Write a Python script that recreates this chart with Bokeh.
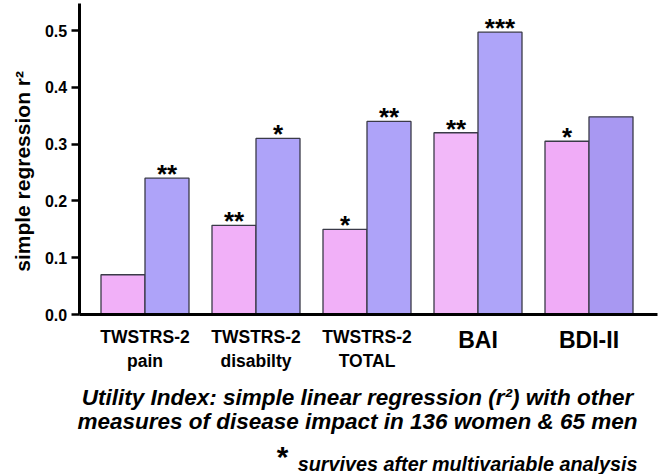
import numpy as np
from bokeh.plotting import figure
from bokeh.models import Range1d, FixedTicker, PrintfTickFormatter, ColumnDataSource
from bokeh.core.properties import value
from bokeh.embed import file_html
from bokeh.resources import INLINE

# ---- data ----
categories = ["TWSTRS-2\npain", "TWSTRS-2\ndisabilty", "TWSTRS-2\nTOTAL", "BAI", "BDI-II"]
women_r2 = [0.07, 0.157, 0.15, 0.32, 0.305]
men_r2 = [0.24, 0.31, 0.34, 0.497, 0.348]
women_sig = ["", "**", "*", "**", "*"]
men_sig = ["**", "*", "**", "***", ""]
y_ticks = [0.0, 0.1, 0.2, 0.3, 0.4, 0.5]
y_title = "simple regression  r\u00b2"
caption_lines = ["Utility Index: simple linear regression (r\u00b2) with other",
                 "measures of disease impact in 136 women & 65 men"]
footnote = "survives after multivariable analysis"

# ---- styles ----
label_sizes = ["17.5px", "17.5px", "17.5px", "23px", "23px"]
women_colors = ["#F1B0F8", "#F1B0F8", "#F1B0F8", "#F2B8F9", "#F0ACF7"]
men_colors = ["#AEA3F9", "#AEA3F9", "#AEA3F9", "#AEA4F9", "#A898F2"]
FONT = "Liberation Sans"

# pixel <-> data helpers (picture pixel coordinates)
PX_Y = 568.0      # px per 1.0 of r2
Y0 = 314.0        # picture y of r2 = 0
PX_X = 111.0      # px per category
X0 = 144.5        # picture x of first category centre
W, H = 661, 474
def yd(py):
    return (Y0 - py) / PX_Y
def xd(px):
    return (px - X0) / PX_X

bar_w = 44.0 / PX_X
idx = np.arange(len(categories))

p = figure(width=W, height=H,
           x_range=Range1d(xd(0), xd(W)), y_range=Range1d(yd(H), yd(0)),
           output_backend="svg", toolbar_location=None, min_border=0)
p.outline_line_color = None
p.grid.visible = False
p.background_fill_color = "white"
p.border_fill_color = "white"

# bars
p.vbar(x=idx - bar_w / 2, top=women_r2, width=bar_w, bottom=0,
       fill_color=women_colors, line_color="#3a3a48", line_width=1.3)
p.vbar(x=idx + bar_w / 2, top=men_r2, width=bar_w, bottom=0,
       fill_color=men_colors, line_color="#3a3a48", line_width=1.3)

# significance stars
star_kw = dict(text_font=value(FONT), text_font_size="26px", text_font_style="bold",
               text_align="center", text_baseline="alphabetic", text_color="black", y_offset=-4)
p.text(x=idx - bar_w / 2, y=women_r2, text=women_sig, **star_kw)
p.text(x=idx + bar_w / 2, y=men_r2, text=men_sig, **star_kw)

# y axis
yax = p.yaxis[0]
yax.fixed_location = xd(78.7)
yax.bounds = (0, yd(3))
yax.ticker = FixedTicker(ticks=y_ticks)
yax.formatter = PrintfTickFormatter(format="%.1f")
yax.axis_line_width = 3
yax.axis_line_color = "black"
yax.major_tick_line_width = 2.5
yax.major_tick_out = 8
yax.major_tick_in = 0
yax.minor_tick_line_color = None
yax.major_label_text_font = FONT
yax.major_label_text_font_size = "16px"
yax.major_label_text_font_style = "bold"
yax.major_label_text_color = "black"
yax.major_label_standoff = 4

# y title (rotated)
p.text(x=[xd(21.5)], y=[yd(168)], text=[y_title], angle=np.pi / 2,
       text_font=value(FONT), text_font_size="21px", text_font_style="bold",
       text_align="center", text_baseline="middle", text_color="black")

# x axis (baseline at r2 = 0)
xax = p.xaxis[0]
xax.fixed_location = 0
xax.bounds = (xd(78.7), xd(657))
xax.ticker = FixedTicker(ticks=[])
xax.axis_line_width = 3
xax.axis_line_color = "black"
xax.major_tick_line_color = None
xax.minor_tick_line_color = None
xax.major_label_text_font_size = "0px"

# category labels
lab_src = ColumnDataSource(dict(x=idx, y=[yd(326)] * len(categories), text=categories, size=label_sizes))
p.text(x="x", y="y", text="text", text_font_size="size", source=lab_src,
       text_font=value(FONT), text_font_style="bold", text_align="center",
       text_baseline="top", text_color="black", text_line_height=1.2)

# caption
p.text(x=[xd(357), xd(357)], y=[yd(396.7), yd(420.7)], text=caption_lines,
       text_font=value(FONT), text_font_size="22.5px", text_font_style="bold italic",
       text_align="center", text_baseline="alphabetic", text_color="black")

# footnote
p.text(x=[xd(275)], y=[yd(456)], text=["*"],
       text_font=value(FONT), text_font_size="30px", text_font_style="bold italic",
       text_align="left", text_baseline="alphabetic", text_color="black")
p.text(x=[xd(637)], y=[yd(463)], text=[footnote],
       text_font=value(FONT), text_font_size="19.8px", text_font_style="bold italic",
       text_align="right", text_baseline="alphabetic", text_color="black")

open("out.html", "w").write(file_html(p, INLINE))
